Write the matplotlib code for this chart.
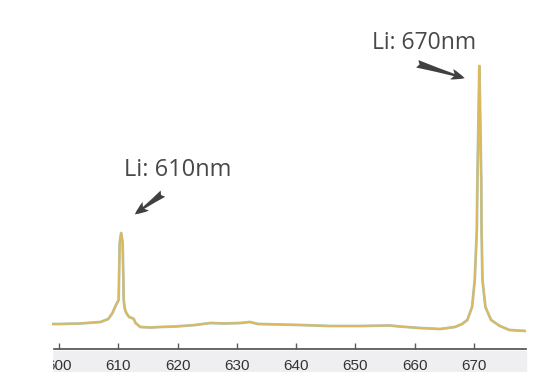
import matplotlib
matplotlib.use("Agg")
import matplotlib.pyplot as plt
from matplotlib.patches import Rectangle

# wavelength (nm) and intensity (arb. units)
wavelength = [598.8, 600.0, 603.6, 607.0, 608.3, 609.0, 609.6, 610.05, 610.12, 610.22,
              610.47, 610.72, 610.84, 610.9, 611.1, 611.35, 611.8, 612.3, 612.6, 612.9,
              613.7, 615.4, 617.1, 619.6, 623.0, 625.5, 628.0, 630.6, 632.2, 633.6,
              637.3, 640.7, 645.7, 650.8, 655.8, 657.5, 660.9, 664.3, 666.8, 668.0,
              668.9, 669.7, 670.15, 670.5, 670.6, 670.8, 670.93, 671.05, 671.25, 671.3,
              671.45, 671.95, 672.9, 674.4, 676.0, 678.8]
intensity = [25, 25, 25.5, 27, 30, 36, 44, 49, 72, 106,
             116, 106, 72, 49, 40, 36, 32, 31, 30, 26,
             22, 21.5, 22, 22.5, 24, 26, 25.5, 26, 27, 25,
             24.5, 24, 23, 23, 23.5, 22.5, 21, 20, 22, 25,
             29, 42, 69, 119, 169, 240, 283, 240, 169, 119,
             69, 42, 29, 23, 19, 18]

xticks = [600, 610, 620, 630, 640, 650, 660, 670]
peak_labels = ["Li: 610nm", "Li: 670nm"]

plt.rcParams["font.family"] = ["Liberation Sans", "DejaVu Sans"]

fig = plt.figure(figsize=(5.6, 3.72), dpi=100)
ax = fig.add_axes([52 / 560, 23 / 372, 474 / 560, 349 / 372])

# grey strip behind the tick labels
fig.add_artist(Rectangle((52 / 560, 0), 474 / 560, 21 / 372,
                         transform=fig.transFigure, color="#efeff1", zorder=-1))

ax.plot(wavelength, intensity, color="#5f8f86", lw=2.0, alpha=0.5)
ax.plot(wavelength, intensity, color="#dcb95a", lw=1.4)

ax.set_xlim(598.8, 678.8)
ax.set_ylim(0, 349)
ax.set_xticks(xticks)
ax.set_yticks([])
for side in ["top", "right", "left"]:
    ax.spines[side].set_visible(False)
ax.spines["bottom"].set_color("#5a5a5a")
ax.spines["bottom"].set_linewidth(1.3)
ax.tick_params(axis="x", direction="in", length=4, width=1, color="#5a5a5a",
               labelsize=11, labelcolor="#333333", pad=7)
ax.patch.set_alpha(0)

# the left label is cut off by the screenshot edge
fig.add_artist(Rectangle((0, 0), 52 / 560, 30 / 372, transform=fig.transFigure,
                         color="white", zorder=5))

arrow = dict(arrowstyle="fancy,head_length=0.7,head_width=0.55,tail_width=0.4",
             color="#404040", lw=0, mutation_scale=14)
ax.text(620.0, 179, peak_labels[0], fontsize=17, family="Open Sans",
        color="#484848", ha="center", va="center")
ax.annotate("", xy=(612.4, 133), xytext=(617.9, 157), arrowprops=arrow)
ax.text(661.6, 306, peak_labels[1], fontsize=16.5, family="Open Sans",
        color="#484848", ha="center", va="center")
ax.annotate("", xy=(668.9, 270), xytext=(660.0, 286), arrowprops=arrow)

fig.savefig("out.png", dpi=100)
